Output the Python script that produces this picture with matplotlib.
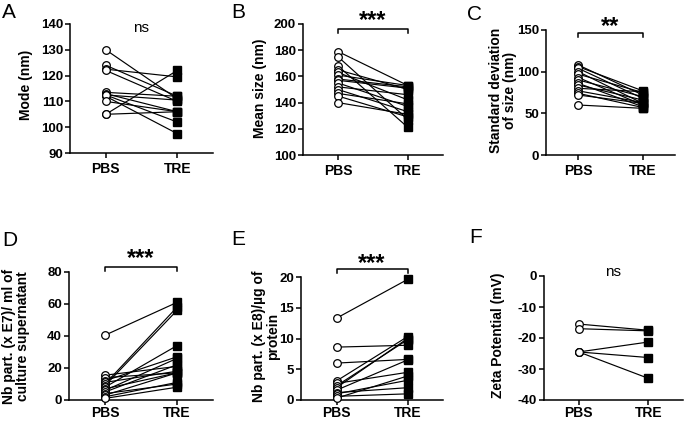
import matplotlib
matplotlib.use("Agg")
import matplotlib.pyplot as plt

plt.rcParams['font.family'] = ['Liberation Sans', 'DejaVu Sans']
plt.rcParams['axes.unicode_minus'] = False

groups = ["PBS", "TRE"]

# A - mode
mode_pbs = [130, 124, 122.5, 122, 113.5, 113, 112.5, 112, 112.5, 110, 105, 105]
mode_tre = [111, 112, 119.5, 110, 112, 106, 110.5, 97.5, 102, 106, 122, 106]

# B - mean size
mean_pbs = [179, 175, 168, 165, 163, 161, 158, 157, 155, 152, 150, 147, 145, 140]
mean_tre = [153, 127, 121, 150, 142, 153, 152, 151, 137, 146, 133, 139, 129, 131]

# C - standard deviation of size
sd_pbs = [108, 106, 104, 100, 97, 93, 90, 86, 84, 80, 77, 74, 72, 60]
sd_tre = [72, 77, 68, 62, 75, 60, 70, 58, 66, 76, 63, 57, 62, 56]

# D - particles / ml supernatant
nb_ml_pbs = [40.5, 15.5, 14, 12, 11, 10, 9, 8, 7, 6, 5, 4, 3, 2, 1]
nb_ml_tre = [61, 21, 17, 27, 18, 58, 56, 34, 17, 26, 22, 10, 17, 11, 8]

# E - particles / ug protein
nb_ug_pbs = [13.3, 8.6, 6.0, 3.1, 2.7, 2.3, 2.0, 1.6, 1.2, 1.0, 0.6, 0.3]
nb_ug_tre = [19.6, 8.9, 6.6, 10.3, 4.5, 9.8, 10.0, 6.5, 2.0, 3.2, 1.0, 3.9]

# F - zeta potential
zeta_pbs = [-15.5, -17, -24.5, -24.5, -24.5]
zeta_tre = [-17.5, -17.7, -21.3, -26.3, -33]

fig = plt.figure(figsize=(6.85, 4.21), dpi=100)


def px_axes(left, right, top, bottom):
    W, H = 685.0, 421.0
    return fig.add_axes([left / W, 1 - bottom / H, (right - left) / W, (bottom - top) / H])


def paired(ax, pbs, tre, ylim, yticks, ylabel, lab_x, lab_y, xpad=3):
    for p, t in zip(pbs, tre):
        ax.plot([0, 1], [p, t], color='black', lw=0.85, zorder=2, clip_on=False)
    ax.plot([0] * len(pbs), pbs, 'o', ms=5.5, mfc='white', mec='black', mew=0.9,
            zorder=3, clip_on=False)
    ax.plot([1] * len(tre), tre, 's', ms=5.3, color='black', zorder=3, clip_on=False)
    ax.set_xlim(-0.5, 1.5)
    ax.set_ylim(*ylim)
    ax.set_yticks(yticks)
    ax.set_xticks([0, 1])
    ax.set_xticklabels(groups, fontsize=10, fontweight='bold')
    for lbl in ax.get_yticklabels():
        lbl.set_fontweight('bold')
        lbl.set_fontsize(9.5)
    ax.tick_params(direction='out', length=3.5, width=1.1, pad=1.5)
    ax.tick_params(axis='x', pad=xpad)
    for s in ['top', 'right']:
        ax.spines[s].set_visible(False)
    for s in ['left', 'bottom']:
        ax.spines[s].set_linewidth(1.1)
    ax.set_ylabel(ylabel, fontsize=10, fontweight='bold', linespacing=1.0)
    ax.yaxis.set_label_coords(lab_x, lab_y)


def bracket(ax, y, drop, ytxt, stars):
    ax.plot([0, 0, 1, 1], [drop, y, y, drop], color='black', lw=1.1, clip_on=False)
    ax.text(0.5, ytxt, stars, ha='center', va='center', fontsize=17, fontweight='bold')


axA = px_axes(70, 213, 24, 153)
paired(axA, mode_pbs, mode_tre, (90, 140), range(90, 141, 10), "Mode (nm)", -0.26, 0.53)
axA.text(0.5, 138.4, "ns", ha='center', va='center', fontsize=11)

axB = px_axes(303, 443, 24, 155)
paired(axB, mean_pbs, mean_tre, (100, 200), range(100, 201, 20), "Mean size (nm)", -0.26, 0.51)
bracket(axB, 196, 193, 203, "***")

axC = px_axes(546, 675, 30, 155)
paired(axC, sd_pbs, sd_tre, (0, 150), [0, 50, 100, 150],
       "Standard deviation\nof size (nm)", -0.225, 0.52)
bracket(axC, 146.4, 142, 154, "**")

axD = px_axes(69, 213, 272, 400)
paired(axD, nb_ml_pbs, nb_ml_tre, (0, 80), range(0, 81, 20),
       "Nb part. (x E7)/ ml of\nculture supernatant", -0.27, 0.5, xpad=0.5)
bracket(axD, 82.9, 80.8, 88.5, "***")

axE = px_axes(301, 443, 277, 400)
paired(axE, nb_ug_pbs, nb_ug_tre, (0, 20), range(0, 21, 5),
       "Nb part. (x E8)/µg of\nprotein", -0.15, 0.52, xpad=0.5)
bracket(axE, 21.3, 20.6, 22.2, "***")

axF = px_axes(544, 683, 276, 400)
paired(axF, zeta_pbs, zeta_tre, (-40, 0), range(-40, 1, 10),
       "Zeta Potential (mV)", -0.28, 0.52, xpad=0.5)
axF.text(0.5, 1.2, "ns", ha='center', va='center', fontsize=11)

# panel letters
for letter, x, y in [("A", 2, 3), ("B", 231, 3), ("C", 467, 5),
                     ("D", 2, 231), ("E", 231, 230), ("F", 469, 228)]:
    fig.text(x / 685, 1 - y / 421, letter, ha='left', va='top', fontsize=15)

fig.savefig("out.png", dpi=100)
